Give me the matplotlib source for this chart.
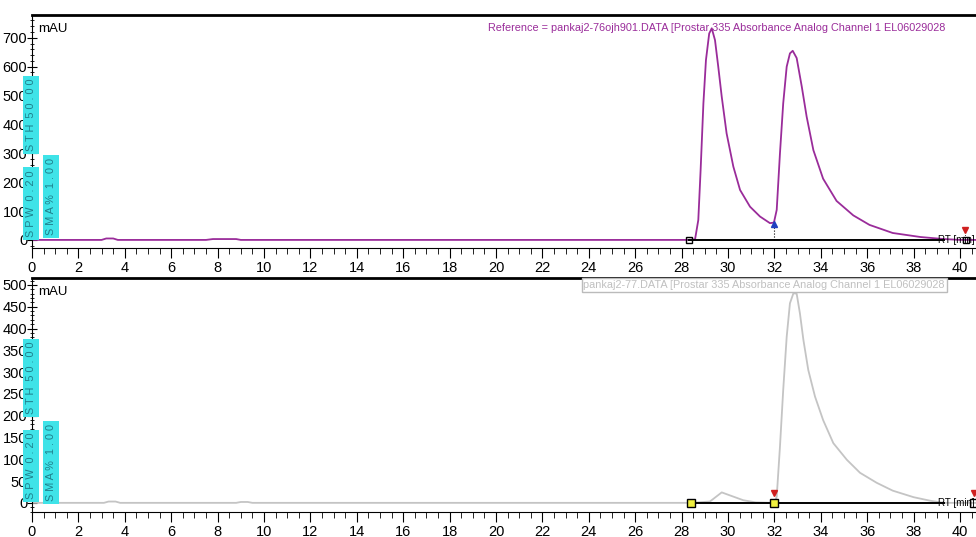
import matplotlib.pyplot as plt
from matplotlib.ticker import MultipleLocator

plt.rcParams['font.family'] = ['Liberation Sans', 'DejaVu Sans']

# --- top trace (reference run, purple) ---
t_ref = [0, 3.0, 3.2, 3.5, 3.7, 7.5, 7.8, 8.8, 9.0, 28.3, 28.58, 28.72, 28.82,
         28.94, 29.05, 29.19, 29.3, 29.44, 29.58, 29.73, 29.94, 30.23, 30.52,
         30.95, 31.38, 31.81, 31.98, 32.1, 32.24, 32.38, 32.53, 32.67, 32.79,
         32.96, 33.18, 33.39, 33.68, 34.1, 34.68, 35.4, 36.1, 37.1, 38.3,
         39.3, 40.0, 40.7]
y_ref = [0, 0, 5, 5, 0, 0, 3, 3, 0, 0, 2, 69, 242,
         473, 623, 715, 733, 692, 600, 496, 369, 254, 173,
         115, 81, 58, 60, 104, 300, 473, 600, 646, 655,
         630, 531, 427, 311, 212, 135, 85, 52, 24, 10,
         3, 0, 0]

# --- bottom trace (sample run, grey) ---
t_smp = [0, 3.1, 3.3, 3.6, 3.8, 8.8, 9.0, 9.3, 9.5, 28.4, 29.22, 29.73, 30.09,
         30.66, 31.2, 32.0, 32.1, 32.24, 32.38, 32.53, 32.67, 32.82, 32.96,
         33.1, 33.25, 33.46, 33.75, 34.1, 34.54, 35.12, 35.69, 36.41, 37.1,
         38.0, 38.7, 39.3, 40.7]
y_smp = [0, 0, 3, 3, 0, 0, 2, 2, 0, 0, 3, 24, 17,
         6, 1, 0, 14, 129, 259, 381, 458, 481, 480,
         435, 374, 305, 244, 190, 137, 99, 69, 46, 28,
         13, 5, 0, 0]

ref_label = "Reference = pankaj2-76ojh901.DATA [Prostar 335 Absorbance Analog Channel 1 EL06029028"
smp_label = "pankaj2-77.DATA [Prostar 335 Absorbance Analog Channel 1 EL06029028"
params = ["S T H  5 0 . 0 0", "S P W  0 . 2 0", "S M A %  1 . 0 0"]

W, H = 976, 537
fig = plt.figure(figsize=(W / 100, H / 100), dpi=100)
ax1 = fig.add_axes([32 / W, 1 - 248 / H, 1 - 32 / W, (248 - 15) / H])
ax2 = fig.add_axes([32 / W, 1 - 512 / H, 1 - 32 / W, (512 - 278) / H])

CYAN = '#3FE3E8'


def style(ax, ylim, major, minor):
    ax.set_xlim(0, 40.69)
    ax.set_ylim(*ylim)
    ax.spines['right'].set_visible(False)
    ax.spines['top'].set_linewidth(2)
    ax.xaxis.set_major_locator(MultipleLocator(2))
    ax.xaxis.set_minor_locator(MultipleLocator(0.5))
    ax.yaxis.set_major_locator(MultipleLocator(major))
    ax.yaxis.set_minor_locator(MultipleLocator(minor))
    ax.tick_params(axis='x', which='major', direction='out', length=7, labelsize=10.5, pad=2)
    ax.tick_params(axis='x', which='minor', direction='out', length=4)
    ax.tick_params(axis='y', which='major', direction='inout', length=7, labelsize=10.5, pad=0)
    ax.tick_params(axis='y', which='minor', direction='inout', length=3)
    ax.text(0.28, ylim[1] - (ylim[1] - ylim[0]) * 0.06, "mAU", fontsize=9.5, va='center')


def boxes(ax, sth, spw, sma):
    kw = dict(rotation=90, fontsize=7.8, color='#1F7F8C', ha='center', va='center',
              zorder=10, clip_on=False,
              bbox=dict(boxstyle='square,pad=0.28', fc=CYAN, ec='none'))
    ax.text(-0.03, sth, params[0], **kw)
    ax.text(-0.03, spw, params[1], **kw)
    ax.text(0.8, sma, params[2], **kw)


# top panel
ax1.plot(t_ref, y_ref, color='#9A2C9A', lw=1.3)
ax1.plot([28.3, 39.3], [0, 0], color='black', lw=1.4)
ax1.plot([32.0, 32.0], [0, 60], color='black', lw=0.8, ls=':')
ax1.plot(32.0, 55, marker='^', color='#2040C0', ms=4)
ax1.plot([28.3, 40.25], [0, 0], ls='none', marker='s', ms=5, mfc='none', mec='black')
ax1.plot(40.2, 35, marker='v', color='#D02020', ms=4)
ax1.text(39.05, 0, "RT [min]", fontsize=7, va='center')
ax1.text(39.35, 735, ref_label, fontsize=7.8, color='#9A2C9A', ha='right', va='center')
style(ax1, (-28, 779), 100, 20)
boxes(ax1, 432, 126, 150)

# bottom panel
ax2.plot(t_smp, y_smp, color='#C4C4C4', lw=1.3)
ax2.plot([28.4, 39.3], [0, 0], color='black', lw=1.4)
ax2.plot([28.4, 32.0], [0, 0], ls='none', marker='s', ms=6, mfc='#F0F040', mec='black')
ax2.plot(40.6, 0, marker='s', ms=6, mfc='none', mec='black')
ax2.plot([32.0, 40.6], [22, 22], ls='none', marker='v', color='#D02020', ms=4)
ax2.text(39.05, 0, "RT [min]", fontsize=7, va='center')
ax2.text(39.35, 500, smp_label, fontsize=7.8, color='#C0C0C0', ha='right', va='center',
         bbox=dict(boxstyle='square,pad=0.15', fc='white', ec='#BBBBBB', lw=1))
style(ax2, (-21, 516), 50, 10)
boxes(ax2, 287, 85, 92)

fig.savefig('out.png', dpi=100)
